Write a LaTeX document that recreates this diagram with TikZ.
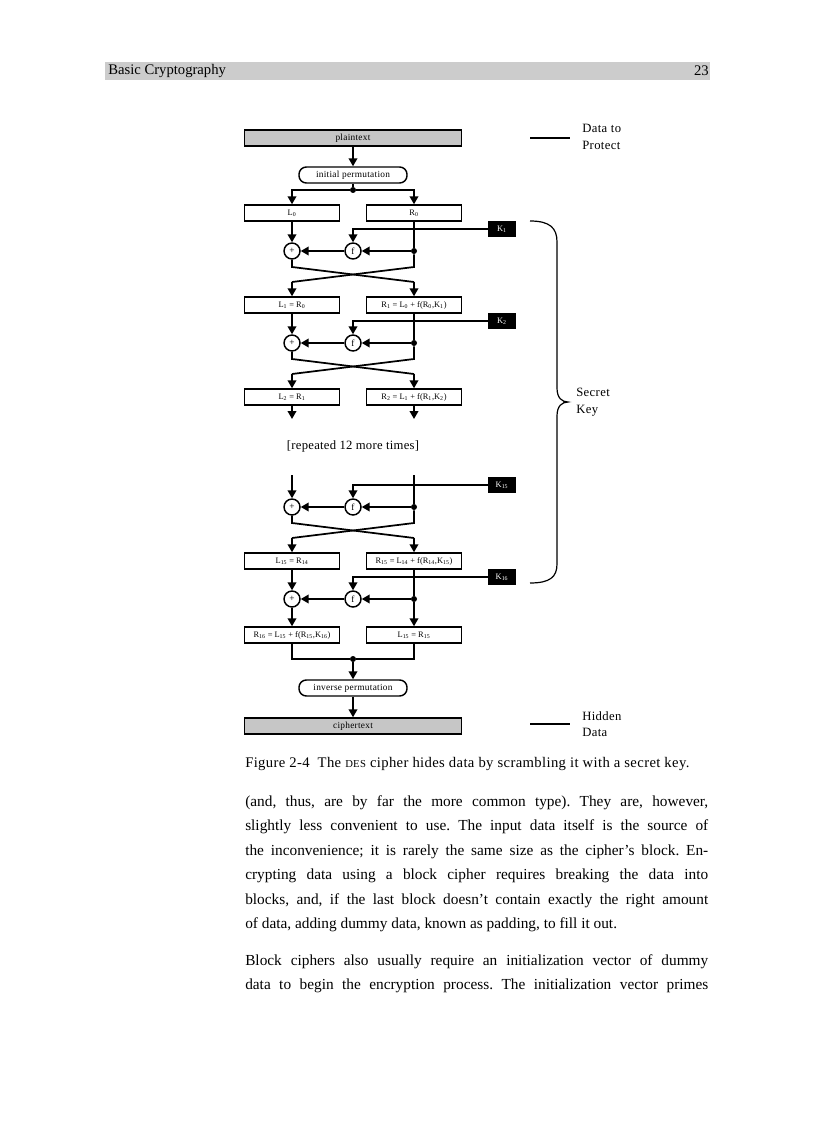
\documentclass[tikz,border=0pt]{standalone}
\usepackage{fontspec}
\setmainfont{Liberation Serif}
\usetikzlibrary{arrows.meta,calc}
\newcommand\sbs[1]{\textsubscript{#1}}
\tikzset{
 ln/.style={line width=1.3pt},
 arr/.style={ln,-{Triangle[length=6pt,width=6.5pt]}},
 lbl/.style={font=\fontsize{7}{8}\selectfont\addfontfeature{LetterSpace=3}},
 eqf/.style={font=\fontsize{6.3}{7}\selectfont},
 blk/.style={draw,line width=1.1pt,minimum width=71.25pt,minimum height=12pt,inner sep=0pt,eqf},
 wide/.style={blk,minimum width=162.75pt,fill=gray!45,lbl},
 perm/.style={blk,rounded corners=5.5pt,minimum width=81pt,lbl},
 keyb/.style={fill=black,text=white,minimum width=21pt,minimum height=12pt,inner sep=0pt,eqf},
 op/.style={circle,draw,line width=1.1pt,minimum size=12pt,inner sep=0pt,font=\fontsize{7}{8}\selectfont},
 dot/.style={circle,fill=black,minimum size=4.5pt,inner sep=0pt},
 legend/.style={font=\fontsize{9.5}{12.5}\selectfont\addfontfeature{LetterSpace=3},align=left,anchor=west,inner sep=0pt},
 body/.style={anchor=base west,inner sep=0pt,font=\fontsize{11.5}{14}\selectfont},
}
\begin{document}
\frenchspacing
\begin{tikzpicture}[x=0.75pt,y=-0.75pt]
\useasboundingbox[fill=white] (0,0) rectangle (816,1123);
% header
\fill[gray!40] (105,62) rectangle (710,80);
\node[anchor=west,inner sep=0pt,font=\fontsize{11}{12}\selectfont] (hdl) at (108,71) {Basic Cryptography};
\node[anchor=east,inner sep=0pt,font=\fontsize{11}{12}\selectfont] (hdr) at (709,71) {23};

% top
\node[wide] (plain) at (353,138) {plaintext};
\node[perm] (ip) at (353,175) {initial permutation};
\node[dot] (split) at (353,190) {};
\node[blk] (L0) at (292,213) {L\sbs{0}};
\node[blk] (R0) at (414,213) {R\sbs{0}};
\draw[arr] (plain.south) -- (ip.north);
\draw[ln] (ip.south) -- (split);
\draw[arr] (split) -| (L0.north);
\draw[arr] (split) -| (R0.north);

% round 1
\node[keyb] (K1) at (502,229) {K\sbs{1}};
\node[op] (p1) at (292,251) {+};
\node[op] (f1) at (353,251) {f};
\node[dot] (d1) at (414,251) {};
\coordinate (c1a) at (292,267); \coordinate (c1b) at (414,267);
\coordinate (c1c) at (414,282); \coordinate (c1d) at (292,282);
\node[blk] (L1) at (292,305) {L\sbs{1} = R\sbs{0}};
\node[blk] (R1) at (414,305) {R\sbs{1} = L\sbs{0} + f(R\sbs{0},K\sbs{1})};
\draw[arr] (L0.south) -- (p1.north);
\draw[ln] (R0.south) -- (d1);
\draw[arr] (K1.west) -| (f1.north);
\draw[arr] (d1) -- (f1.east);
\draw[arr] (f1.west) -- (p1.east);
\draw[ln] (p1.south) -- (c1a) -- (c1c);
\draw[arr] (c1c) -- (R1.north);
\draw[ln] (d1) -- (c1b) -- (c1d);
\draw[arr] (c1d) -- (L1.north);

% round 2
\node[keyb] (K2) at (502,321) {K\sbs{2}};
\node[op] (p2) at (292,343) {+};
\node[op] (f2) at (353,343) {f};
\node[dot] (d2) at (414,343) {};
\coordinate (c2a) at (292,359); \coordinate (c2b) at (414,359);
\coordinate (c2c) at (414,374); \coordinate (c2d) at (292,374);
\node[blk] (L2) at (292,397) {L\sbs{2} = R\sbs{1}};
\node[blk] (R2) at (414,397) {R\sbs{2} = L\sbs{1} + f(R\sbs{1},K\sbs{2})};
\draw[arr] (L1.south) -- (p2.north);
\draw[ln] (R1.south) -- (d2);
\draw[arr] (K2.west) -| (f2.north);
\draw[arr] (d2) -- (f2.east);
\draw[arr] (f2.west) -- (p2.east);
\draw[ln] (p2.south) -- (c2a) -- (c2c);
\draw[arr] (c2c) -- (R2.north);
\draw[ln] (d2) -- (c2b) -- (c2d);
\draw[arr] (c2d) -- (L2.north);
\coordinate (e2l) at (292,419); \coordinate (e2r) at (414,419);
\draw[arr] (L2.south) -- (e2l);
\draw[arr] (R2.south) -- (e2r);

\node[font=\fontsize{9.5}{11}\selectfont\addfontfeature{LetterSpace=2},inner sep=0pt] (rep) at (353,446) {[repeated 12 more times]};

% round 15
\coordinate (s15l) at (292,475); \coordinate (s15r) at (414,475);
\node[keyb] (K15) at (502,485) {K\sbs{15}};
\node[op] (p15) at (292,507) {+};
\node[op] (f15) at (353,507) {f};
\node[dot] (d15) at (414,507) {};
\coordinate (c15a) at (292,523); \coordinate (c15b) at (414,523);
\coordinate (c15c) at (414,538); \coordinate (c15d) at (292,538);
\node[blk] (L15) at (292,561) {L\sbs{15} = R\sbs{14}};
\node[blk] (R15) at (414,561) {R\sbs{15} = L\sbs{14} + f(R\sbs{14},K\sbs{15})};
\draw[arr] (s15l) -- (p15.north);
\draw[ln] (s15r) -- (d15);
\draw[arr] (K15.west) -| (f15.north);
\draw[arr] (d15) -- (f15.east);
\draw[arr] (f15.west) -- (p15.east);
\draw[ln] (p15.south) -- (c15a) -- (c15c);
\draw[arr] (c15c) -- (R15.north);
\draw[ln] (d15) -- (c15b) -- (c15d);
\draw[arr] (c15d) -- (L15.north);

% round 16
\node[keyb] (K16) at (502,577) {K\sbs{16}};
\node[op] (p16) at (292,599) {+};
\node[op] (f16) at (353,599) {f};
\node[dot] (d16) at (414,599) {};
\node[blk] (R16) at (292,635) {R\sbs{16} = L\sbs{15} + f(R\sbs{15},K\sbs{16})};
\node[blk] (L16) at (414,635) {L\sbs{15} = R\sbs{15}};
\draw[arr] (L15.south) -- (p16.north);
\draw[ln] (R15.south) -- (d16);
\draw[arr] (K16.west) -| (f16.north);
\draw[arr] (d16) -- (f16.east);
\draw[arr] (f16.west) -- (p16.east);
\draw[arr] (p16.south) -- (R16.north);
\draw[arr] (d16) -- (L16.north);

% bottom
\node[dot] (join) at (353,659) {};
\node[perm] (inv) at (353,688) {inverse permutation};
\node[wide] (ciph) at (353,726) {ciphertext};
\draw[line width=0.8pt] (R16.south) |- (join);
\draw[line width=0.8pt] (L16.south) |- (join);
\draw[arr] (join) -- (inv.north);
\draw[arr] (inv.south) -- (ciph.north);

% legend
\coordinate (lg1a) at (530,138); \coordinate (lg1b) at (570,138);
\draw[ln] (lg1a) -- (lg1b);
\node[legend] (lt1) at (582,137) {Data to\\Protect};
\coordinate (lg2a) at (530,724); \coordinate (lg2b) at (570,724);
\draw[line width=0.9pt] (lg2a) -- (lg2b);
\node[legend] (lt2) at (582,724) {Hidden\\Data};
\draw[line width=0.9pt] (530,221) .. controls (550,221) and (557,228) .. (557,242) -- (557,388)
  .. controls (557,398) and (562,402) .. (568,402)
  .. controls (562,402) and (557,406) .. (557,416) -- (557,564)
  .. controls (557,577) and (550,583) .. (530,583);
\node[legend] (lt3) at (576,402) {Secret\\Key};

% caption
\node[anchor=base west,inner sep=0pt,font=\fontsize{11}{13}\selectfont\addfontfeature{LetterSpace=2.5}] (cap) at (245,767)
 {Figure 2-4\hspace{6pt}The {\fontsize{8}{10}\selectfont DES} cipher hides data by scrambling it with a secret key.};

% body
\node[body] (b1) at (245,806) {\makebox[347.25pt][s]{(and, thus, are by far the more common type). They are, however,}};
\node[body] (b2) at (245,830.5) {\makebox[347.25pt][s]{slightly less convenient to use. The input data itself is the source of}};
\node[body] (b3) at (245,855) {\makebox[347.25pt][s]{the inconvenience; it is rarely the same size as the cipher’s block. En-}};
\node[body] (b4) at (245,879.5) {\makebox[347.25pt][s]{crypting data using a block cipher requires breaking the data into}};
\node[body] (b5) at (245,904) {\makebox[347.25pt][s]{blocks, and, if the last block doesn’t contain exactly the right amount}};
\node[body] (b6) at (245,928.5) {of data, adding dummy data, known as padding, to fill it out.};
\node[body] (b7) at (245,965) {\makebox[347.25pt][s]{Block ciphers also usually require an initialization vector of dummy}};
\node[body] (b8) at (245,989.5) {\makebox[347.25pt][s]{data to begin the encryption process. The initialization vector primes}};
\end{tikzpicture}
\end{document}
